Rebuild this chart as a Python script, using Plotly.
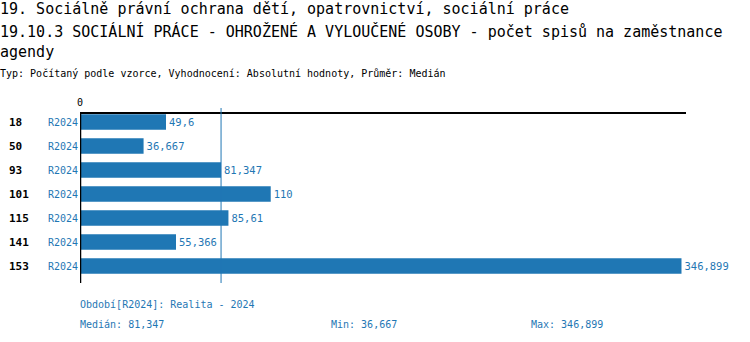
import numpy as np
import plotly.graph_objects as go

# ---- data ----
categories = ["18", "50", "93", "101", "115", "141", "153"]
period = ["R2024"] * 7
values = [49.6, 36.667, 81.347, 110, 85.61, 55.366, 346.899]

title1 = "19. Sociálně právní ochrana dětí, opatrovnictví, sociální práce"
title2 = "19.10.3 SOCIÁLNÍ PRÁCE - OHROŽENÉ A VYLOUČENÉ OSOBY - počet spisů na zaměstnance"
title3 = "agendy"
subtitle = "Typ: Počítaný podle vzorce, Vyhodnocení: Absolutní hodnoty, Průměr: Medián"
footer_period = "Období[R2024]: Realita - 2024"


def fmt(v):
    s = ("%.3f" % v).rstrip("0").rstrip(".")
    return s.replace(".", ",")


median = float(np.median(values))
vmin = float(np.min(values))
vmax = float(np.max(values))

# ---- layout geometry ----
W, H = 750, 342
L, R = 80, 686
T, B = 114, 282
FONT = "DejaVu Sans Mono"
BLUE = "#1f77b4"
PAD = 2  # annotation inner padding compensation


def px2x(px):
    return (px - L) / (R - L)


def py2y(py):
    return (B - py) / (B - T)


fig = go.Figure()
fig.add_trace(go.Bar(
    orientation="h",
    x=values,
    y=categories,
    width=0.65,
    marker=dict(color=BLUE, line=dict(width=0)),
    text=[fmt(v) for v in values],
    textposition="outside",
    textfont=dict(family=FONT, size=10.5, color=BLUE),
    cliponaxis=False,
    constraintext="none",
    hoverinfo="skip",
))

annotations = []
# titles
for txt, py, size in [(title1, 9, 15), (title2, 31, 15), (title3, 52, 15), (subtitle, 73, 10)]:
    annotations.append(dict(text=txt, xref="paper", yref="paper", x=px2x(0 - PAD), y=py2y(py),
                            xanchor="left", yanchor="middle", showarrow=False,
                            font=dict(family=FONT, size=size, color="#000000")))
# category labels (positioned by category index on the category axis)
for i, (c, p) in enumerate(zip(categories, period)):
    annotations.append(dict(text="<b>%s</b>" % c, xref="paper", yref="y", x=px2x(9 - PAD), y=i,
                            xanchor="left", yanchor="middle", showarrow=False,
                            font=dict(family=FONT, size=11, color="#000000")))
    annotations.append(dict(text=p, xref="paper", yref="y", x=px2x(78 + PAD), y=i,
                            xanchor="right", yanchor="middle", showarrow=False,
                            font=dict(family=FONT, size=10, color=BLUE)))
# zero label
annotations.append(dict(text="0", xref="x", yref="paper", x=0, y=py2y(102),
                        xanchor="center", yanchor="middle", showarrow=False,
                        font=dict(family=FONT, size=10, color="#000000")))
# footer
annotations.append(dict(text=footer_period, xref="paper", yref="paper", x=px2x(80 - PAD), y=py2y(304),
                        xanchor="left", yanchor="middle", showarrow=False,
                        font=dict(family=FONT, size=10, color=BLUE)))
for txt, px in [("Medián: " + fmt(median), 80), ("Min: " + fmt(vmin), 331), ("Max: " + fmt(vmax), 531)]:
    annotations.append(dict(text=txt, xref="paper", yref="paper", x=px2x(px - PAD), y=py2y(324),
                            xanchor="left", yanchor="middle", showarrow=False,
                            font=dict(family=FONT, size=10, color=BLUE)))

shapes = [
    dict(type="line", xref="x", yref="paper", x0=median, x1=median,
         y0=py2y(283), y1=py2y(108), line=dict(color=BLUE, width=1)),
    dict(type="line", xref="x", yref="paper", x0=0, x1=0,
         y0=py2y(283), y1=py2y(113), line=dict(color="#000000", width=2.5)),
]

fig.update_layout(
    width=W, height=H,
    margin=dict(l=L, r=W - R, t=T, b=H - B, pad=0),
    paper_bgcolor="white", plot_bgcolor="white",
    showlegend=False,
    annotations=annotations,
    shapes=shapes,
    xaxis=dict(range=[0, 349.5], side="top", showgrid=False, zeroline=False,
               showticklabels=False, ticks="", showline=True, linecolor="#000000",
               linewidth=1.5, fixedrange=True),
    yaxis=dict(type="category", range=[6.6667, -0.3333], showgrid=False, zeroline=False,
               showticklabels=False, ticks="", showline=False, fixedrange=True),
)

fig.write_html("out.html", config=dict(displayModeBar=False))
